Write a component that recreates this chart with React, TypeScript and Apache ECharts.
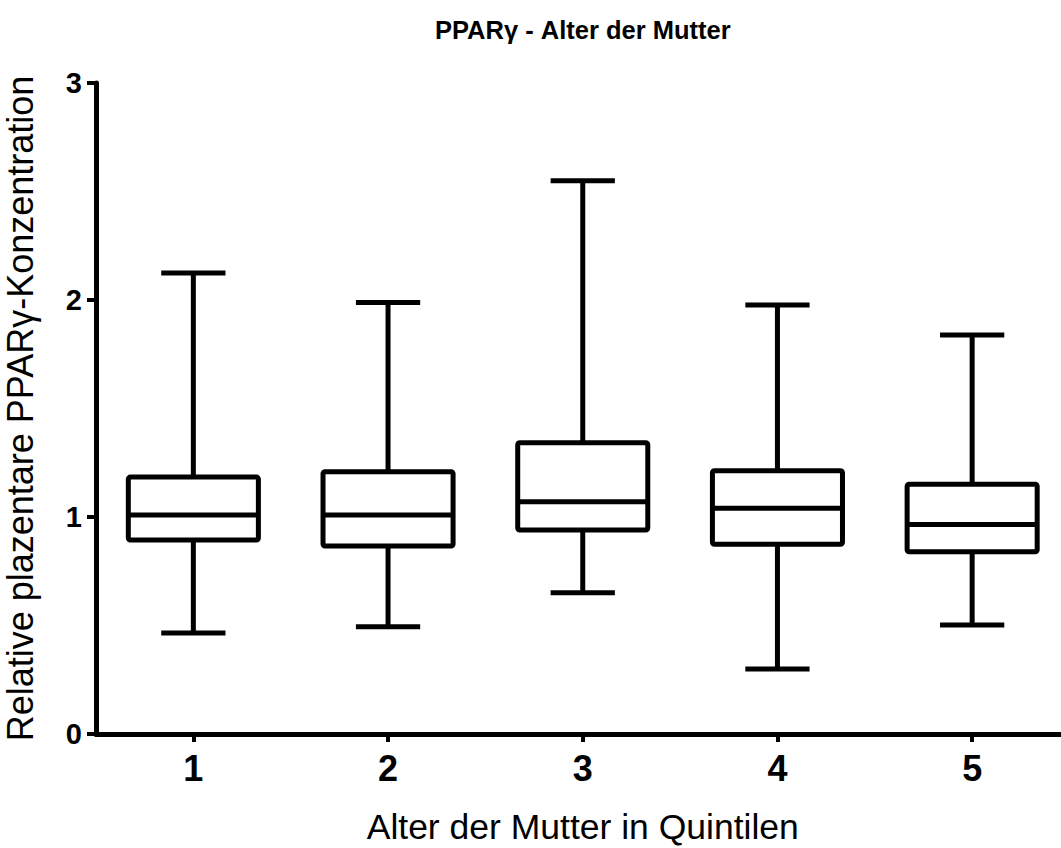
import React, { useEffect, useRef } from "react";
import * as echarts from "echarts";

const categories = ["1", "2", "3", "4", "5"];
const minValues = [0.465, 0.494, 0.651, 0.3, 0.502];
const q1Values = [0.894, 0.866, 0.94, 0.874, 0.84];
const medianValues = [1.009, 1.009, 1.07, 1.04, 0.966];
const q3Values = [1.184, 1.209, 1.342, 1.213, 1.151];
const maxValues = [2.124, 1.989, 2.55, 1.977, 1.839];
const yMin = 0;
const yMax = 3;
const yInterval = 1;

const titleText = "PPARγ - Alter der Mutter";
const xName = "Alter der Mutter in Quintilen";
const yName = "Relative plazentare PPARγ-Konzentration";

const FONT = "'Liberation Sans', Arial, Helvetica, sans-serif";

export default function App() {
  const ref = useRef<HTMLDivElement>(null);

  useEffect(() => {
    if (!ref.current) return;
    const chart = echarts.init(ref.current, undefined, { renderer: "svg" });
    const data = categories.map((_, i) => [
      i,
      minValues[i],
      q1Values[i],
      medianValues[i],
      q3Values[i],
      maxValues[i],
    ]);
    const option: any = {
      animation: false,
      backgroundColor: "#fff",
      title: {
        text: titleText,
        left: 430,
        top: 12,
        textStyle: { fontSize: 25.5, fontWeight: "bold", fontFamily: FONT, color: "#000" },
      },
      grid: {
        left: 96,
        top: 83,
        width: 973.5,
        height: 651,
        containLabel: false,
        outerBoundsMode: "none",
      },
      xAxis: {
        type: "category",
        data: categories,
        boundaryGap: true,
        name: xName,
        nameLocation: "middle",
        nameGap: 75,
        nameTextStyle: { fontSize: 35.5, fontFamily: FONT, color: "#000" },
        axisLine: { show: true, lineStyle: { color: "#000", width: 5 } },
        axisTick: { show: true, alignWithLabel: true, length: 8, lineStyle: { color: "#000", width: 4 } },
        axisLabel: { fontSize: 36, fontWeight: "bold", fontFamily: FONT, color: "#000", margin: 16 },
        splitLine: { show: false },
      },
      yAxis: {
        type: "value",
        min: yMin,
        max: yMax,
        interval: yInterval,
        name: yName,
        nameLocation: "middle",
        nameGap: 58,
        nameTextStyle: { fontSize: 36, fontFamily: FONT, color: "#000" },
        axisLine: { show: true, lineStyle: { color: "#000", width: 5 } },
        axisTick: { show: true, length: 9, lineStyle: { color: "#000", width: 4 } },
        axisLabel: { fontSize: 29, fontWeight: "bold", fontFamily: FONT, color: "#000", margin: 14 },
        splitLine: { show: false },
      },
      series: [
        {
          type: "custom",
          data,
          encode: { x: 0, y: [1, 2, 3, 4, 5] },
          clip: false,
          renderItem: (params: any, api: any) => {
            const idx = api.value(0);
            const band = api.size([1, 0])[0];
            const boxW = band * 0.668;
            const capW = band * 0.33;
            const pMin = api.coord([idx, api.value(1)]);
            const pQ1 = api.coord([idx, api.value(2)]);
            const pMed = api.coord([idx, api.value(3)]);
            const pQ3 = api.coord([idx, api.value(4)]);
            const pMax = api.coord([idx, api.value(5)]);
            const x = pMin[0];
            const lineStyle = { stroke: "#000", lineWidth: 5, lineCap: "butt" };
            return {
              type: "group",
              children: [
                { type: "line", shape: { x1: x, y1: pMax[1], x2: x, y2: pQ3[1] }, style: lineStyle },
                { type: "line", shape: { x1: x, y1: pQ1[1], x2: x, y2: pMin[1] }, style: lineStyle },
                { type: "line", shape: { x1: x - capW / 2, y1: pMax[1], x2: x + capW / 2, y2: pMax[1] }, style: lineStyle },
                { type: "line", shape: { x1: x - capW / 2, y1: pMin[1], x2: x + capW / 2, y2: pMin[1] }, style: lineStyle },
                {
                  type: "rect",
                  shape: { x: x - boxW / 2, y: pQ3[1], width: boxW, height: pQ1[1] - pQ3[1], r: 2 },
                  style: { fill: "#fff", stroke: "#000", lineWidth: 5, lineJoin: "round" },
                },
                { type: "line", shape: { x1: x - boxW / 2, y1: pMed[1], x2: x + boxW / 2, y2: pMed[1] }, style: lineStyle },
              ],
            };
          },
        },
      ],
    };
    chart.setOption(option);
    return () => chart.dispose();
  }, []);

  return (
    <div
      style={{ position: "absolute", left: 0, top: 0, width: 1061, height: 848, overflow: "hidden", background: "#fff" }}
    >
      <div ref={ref} style={{ width: 1061, height: 848 }} />
    </div>
  );
}
